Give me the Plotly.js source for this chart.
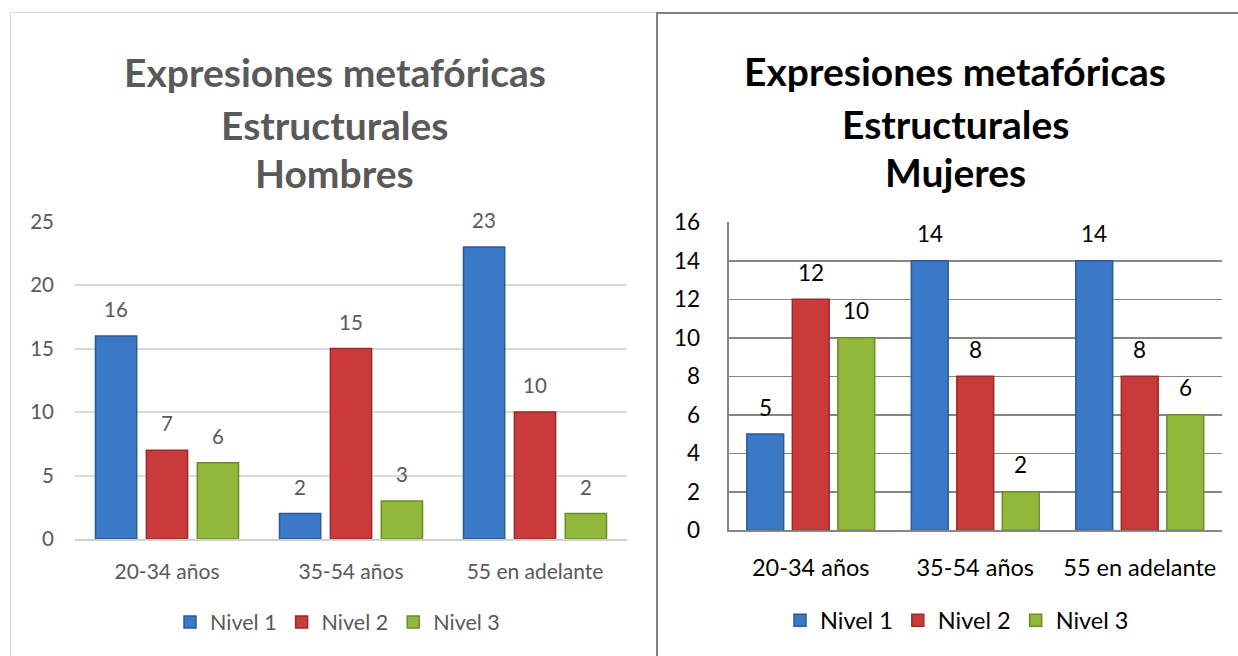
<!DOCTYPE html>
<html>
<head>
<meta charset="utf-8">
<script src="https://cdn.plot.ly/plotly-3.0.1.min.js"></script>
<style>
html,body{margin:0;padding:0;background:#fff;}
#chart{width:1238px;height:656px;}
</style>
</head>
<body>
<div id="chart"></div>
<script>
// ---------- DATA ----------
const categories = ["20-34 años", "35-54 años", "55 en adelante"];
const seriesNames = ["Nivel 1", "Nivel 2", "Nivel 3"];
const hombresNivel1 = [16, 2, 23];
const hombresNivel2 = [7, 15, 10];
const hombresNivel3 = [6, 3, 2];
const mujeresNivel1 = [5, 14, 14];
const mujeresNivel2 = [12, 8, 8];
const mujeresNivel3 = [10, 2, 6];
const titleHombres = ["Expresiones metafóricas", "Estructurales", "Hombres"];
const titleMujeres = ["Expresiones metafóricas", "Estructurales", "Mujeres"];

// ---------- STYLE ----------
const W = 1238, H = 656;
const px = v => v / W;
const py = v => 1 - v / H;
const FONT = "Lato, 'Liberation Sans', sans-serif";
const GREY = "#595959";
const fills = ["#3b78c6", "#c93a3a", "#92b83b"];
const edges = ["#2b5a99", "#9b2a2a", "#6c8c2a"];
const BARGAP = 0.17, BARGROUPGAP = 0.19;

// plot areas in pixels
const L = {x0: 75, x1: 627, yTop: 221.7, yBot: 539};
const R = {x0: 728.5, x1: 1222, yTop: 222.3, yBot: 530.3};

const hombres = [hombresNivel1, hombresNivel2, hombresNivel3];
const mujeres = [mujeresNivel1, mujeresNivel2, mujeresNivel3];

const traces = [];
hombres.forEach((vals, i) => {
  traces.push({
    type: "bar", x: categories, y: vals, name: seriesNames[i],
    xaxis: "x", yaxis: "y", legend: "legend",
    marker: {color: fills[i], line: {color: edges[i], width: 1.5}},
    hoverinfo: "skip"
  });
});
mujeres.forEach((vals, i) => {
  traces.push({
    type: "bar", x: categories, y: vals, name: seriesNames[i],
    xaxis: "x2", yaxis: "y2", legend: "legend2",
    marker: {color: fills[i], line: {color: edges[i], width: 1.5}},
    hoverinfo: "skip"
  });
});

// value labels as annotations above each bar
const annotations = [];
function addLabels(data, xref, yref, area, font) {
  const slot = ((area.x1 - area.x0) / categories.length) * (1 - BARGAP) / data.length;
  data.forEach((vals, i) => {
    vals.forEach((v, j) => {
      annotations.push({
        xref: xref, yref: yref, x: categories[j], y: v, text: String(v),
        showarrow: false, xanchor: "center", yanchor: "middle",
        xshift: (i - (data.length - 1) / 2) * slot, yshift: 27, font: font
      });
    });
  });
}
addLabels(hombres, "x", "y", L, {family: FONT, size: 20.5, color: GREY});
addLabels(mujeres, "x2", "y2", R, {family: FONT, size: 22.5, color: "#000"});

// titles
const tLineY = [72, 125, 173];
titleHombres.forEach((t, k) => {
  annotations.push({xref: "paper", yref: "paper", x: px(334.5), y: py(tLineY[k]),
    text: "<b>" + t + "</b>", showarrow: false, xanchor: "center", yanchor: "middle",
    font: {family: FONT, size: 39, color: GREY}});
});
titleMujeres.forEach((t, k) => {
  annotations.push({xref: "paper", yref: "paper", x: px(955), y: py(tLineY[k] - 1),
    text: "<b>" + t + "</b>", showarrow: false, xanchor: "center", yanchor: "middle",
    font: {family: FONT, size: 39, color: "#000"}});
});

const layout = {
  width: W, height: H,
  margin: {l: 0, r: 0, t: 0, b: 0},
  paper_bgcolor: "#fff", plot_bgcolor: "rgba(0,0,0,0)",
  barmode: "group", bargap: BARGAP, bargroupgap: BARGROUPGAP,
  showlegend: true,
  font: {family: FONT, color: GREY},
  xaxis: {
    domain: [px(L.x0), px(L.x1)], anchor: "y", type: "category",
    showgrid: false, showline: true, linecolor: "#d0d0d0", linewidth: 2,
    ticks: "", ticklabelstandoff: 13,
    tickfont: {family: FONT, size: 21, color: GREY}, fixedrange: true
  },
  yaxis: {
    domain: [py(L.yBot), py(L.yTop)], anchor: "x", range: [0, 25], dtick: 5,
    showgrid: true, gridcolor: "#d9d9d9", gridwidth: 2, zeroline: false,
    showline: false, ticks: "", ticklabelstandoff: 20,
    tickfont: {family: FONT, size: 20.5, color: GREY}, fixedrange: true
  },
  xaxis2: {
    domain: [px(R.x0), px(R.x1)], anchor: "y2", type: "category",
    showgrid: false, showline: true, linecolor: "#868686", linewidth: 2,
    ticks: "", ticklabelstandoff: 15,
    tickfont: {family: FONT, size: 23.5, color: "#000"}, fixedrange: true
  },
  yaxis2: {
    domain: [py(R.yBot), py(R.yTop)], anchor: "x2", range: [0, 16], dtick: 2,
    showgrid: true, gridcolor: "#868686", gridwidth: 1.5, zeroline: false,
    showline: true, linecolor: "#868686", linewidth: 2, ticks: "", ticklabelstandoff: 22,
    tickfont: {family: FONT, size: 22.5, color: "#000"}, fixedrange: true
  },
  legend: {
    orientation: "h", x: px(170), y: py(622), xanchor: "left", yanchor: "middle",
    font: {family: FONT, size: 21.5, color: GREY}, bgcolor: "rgba(0,0,0,0)",
    traceorder: "normal", itemclick: false, itemdoubleclick: false
  },
  legend2: {
    orientation: "h", x: px(780), y: py(620.5), xanchor: "left", yanchor: "middle",
    font: {family: FONT, size: 23.5, color: "#000"}, bgcolor: "rgba(0,0,0,0)",
    traceorder: "normal", itemclick: false, itemdoubleclick: false
  },
  annotations: annotations,
  shapes: [
    {type: "line", xref: "paper", yref: "paper", x0: px(10.5), x1: px(10.5), y0: py(12.5), y1: 0,
      line: {color: "#d9d9d9", width: 1}},
    {type: "line", xref: "paper", yref: "paper", x0: px(10.5), x1: px(657), y0: py(12.5), y1: py(12.5),
      line: {color: "#d9d9d9", width: 1}},
    {type: "line", xref: "paper", yref: "paper", x0: px(657), x1: px(657), y0: py(12), y1: 0,
      line: {color: "#808080", width: 2}},
    {type: "line", xref: "paper", yref: "paper", x0: px(657), x1: 1, y0: py(13), y1: py(13),
      line: {color: "#808080", width: 2}}
  ]
};

Plotly.newPlot("chart", traces, layout, {displayModeBar: false, staticPlot: true});
</script>
</body>
</html>
